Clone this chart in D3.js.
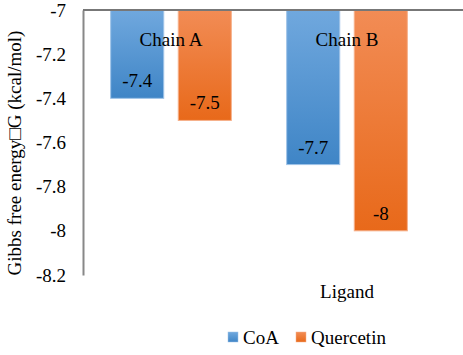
<!DOCTYPE html>
<html><head><meta charset="utf-8">
<script src="https://cdn.jsdelivr.net/npm/d3@7"></script>
<style>body{margin:0;background:#fff}svg{display:block}</style>
</head><body>
<script>
const categories = ["Chain A", "Chain B"];
const seriesNames = ["CoA", "Quercetin"];
const coaValues = [-7.4, -7.7];
const quercetinValues = [-7.5, -8];
const yTicks = [-7, -7.2, -7.4, -7.6, -7.8, -8, -8.2];
const xTitle = "Ligand";
const yTitle = "Gibbs free energy\u25A1G (kcal/mol)";

const FONT = "'Liberation Serif', 'Times New Roman', 'DejaVu Serif', serif";
const W = 463, H = 355;
const m = {left: 83, top: 10, right: 28, bottom: 80};
const svg = d3.select("body").append("svg").attr("width", W).attr("height", H)
  .attr("font-family", FONT);

const x0 = d3.scaleBand().domain(categories).range([m.left, W - m.right]).paddingInner(0.3087).paddingOuter(0.1543);
const x1 = d3.scaleBand().domain(seriesNames).range([0, x0.bandwidth()]).paddingInner(0.2);
const y = d3.scaleLinear().domain([-7, -8.2]).range([m.top, 275]);

const defs = svg.append("defs");
const grads = {
  CoA: ["#70a8de", "#3f85c6"],
  Quercetin: ["#f28c55", "#e8691a"]
};
const borders = {CoA: "#9fc3e8", Quercetin: "#f6b08a"};
Object.entries(grads).forEach(([k, c]) => {
  const g = defs.append("linearGradient").attr("id", "g" + k).attr("x1", 0).attr("y1", 0).attr("x2", 0).attr("y2", 1);
  g.append("stop").attr("offset", 0).attr("stop-color", c[0]);
  g.append("stop").attr("offset", 1).attr("stop-color", c[1]);
});

const data = categories.map((c, i) => ({cat: c, vals: [
  {s: "CoA", v: coaValues[i]}, {s: "Quercetin", v: quercetinValues[i]}]}));

// y axis
const yAxis = d3.axisLeft(y).tickValues(yTicks).tickSize(0).tickPadding(17).tickFormat(d => String(+d.toFixed(1)));
const ya = svg.append("g").attr("transform", `translate(${m.left},0)`).call(yAxis);
ya.attr("font-family", FONT).attr("font-size", 19);
ya.select(".domain").attr("stroke", "#888").attr("stroke-width", 2);
ya.selectAll("text").attr("fill", "#000").attr("dy", "0.32em");

// bars
const groups = svg.append("g").selectAll("g").data(data).join("g")
  .attr("transform", d => `translate(${x0(d.cat)},0)`);
groups.selectAll("rect").data(d => d.vals).join("rect")
  .attr("x", d => x1(d.s) + 0.5)
  .attr("y", y(-7))
  .attr("width", x1.bandwidth() - 1)
  .attr("height", d => y(d.v) - y(-7))
  .attr("fill", d => `url(#g${d.s})`)
  .attr("stroke", d => borders[d.s]).attr("stroke-width", 1);
groups.selectAll("text.val").data(d => d.vals).join("text").attr("class", "val")
  .attr("x", d => x1(d.s) + x1.bandwidth() / 2)
  .attr("y", d => y(d.v) - 11)
  .attr("text-anchor", "middle").attr("font-size", 19).attr("fill", "#000")
  .text(d => String(d.v));

// category labels
svg.append("g").selectAll("text").data(categories).join("text")
  .attr("x", d => x0(d) + x0.bandwidth() / 2)
  .attr("y", 46)
  .attr("text-anchor", "middle").attr("font-size", 19).attr("fill", "#000")
  .text(d => d);

// top axis line (value -7)
svg.append("line").attr("x1", m.left).attr("x2", W).attr("y1", y(-7)).attr("y2", y(-7))
  .attr("stroke", "#777").attr("stroke-width", 2);

// x title
svg.append("text").attr("x", x0("Chain B") + x0.bandwidth() / 2).attr("y", 298)
  .attr("text-anchor", "middle").attr("font-size", 19).text(xTitle);

// y title
svg.append("text").attr("transform", `translate(21,153) rotate(-90)`)
  .attr("text-anchor", "middle").attr("font-size", 19).text(yTitle);

// legend
const leg = svg.append("g");
const legX = [228, 296];
seriesNames.forEach((s, i) => {
  leg.append("rect").attr("x", legX[i]).attr("y", 332).attr("width", 10).attr("height", 10)
    .attr("fill", `url(#g${s})`).attr("stroke", borders[s]).attr("stroke-width", 0.5);
  leg.append("text").attr("x", legX[i] + 15).attr("y", 344).attr("font-size", 19).text(s);
});
</script>
</body></html>
